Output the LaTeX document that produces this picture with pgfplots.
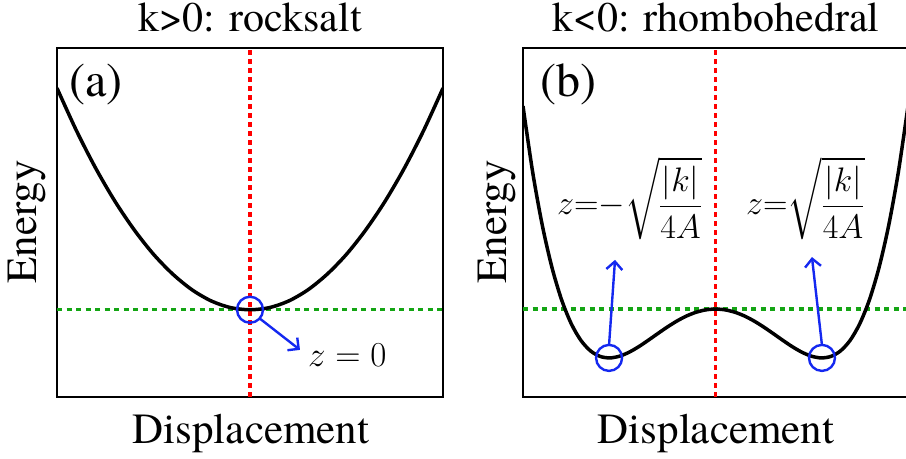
\RequirePackage{fix-cm}
\documentclass[border=0pt]{standalone}
\usepackage[no-math]{fontspec}
\IfFontExistsTF{texgyretermes-regular.otf}{\setmainfont{texgyretermes-regular.otf}}{}
\DeclareFontFamily{OMX}{cmex}{}
\DeclareFontShape{OMX}{cmex}{m}{n}{<-> cmex10}{}
\usepackage{pgfplots}
\pgfplotsset{compat=1.18}
\usetikzlibrary{arrows.meta}
\definecolor{myred}{RGB}{255,0,0}
\definecolor{mygreen}{RGB}{20,165,20}
\definecolor{myblue}{RGB}{20,40,240}

\pgfplotsset{panel/.style={scale only axis, height=349bp,
  xmin=-1,xmax=1,ymin=0,ymax=1, xtick=\empty, ytick=\empty,
  axis line style={line width=2.6bp}, anchor=south west, clip=true}}
\tikzset{
  greenline/.style={mygreen, line width=3.5bp, dash pattern=on 5bp off 4.5bp},
  redline/.style={myred, line width=3.5bp, dash pattern=on 5bp off 4bp},
  curve/.style={black, line width=3.5bp, smooth},
  ann/.style={myblue, line width=2.4bp},
  annarrow/.style={ann, -{Straight Barb[length=8bp,width=16bp,line width=2.4bp]}}}

\begin{document}
\begin{tikzpicture}
\useasboundingbox (0,0) rectangle (906bp,459bp);
% ---------- panel (a)
\begin{axis}[panel, width=386bp, at={(57bp,62bp)}]
\addplot[greenline] coordinates {(-1,0.25) (1,0.25)};
\addplot[redline] coordinates {(0,0) (0,1)};
\addplot[curve] coordinates {
(-1,0.885) (-0.9,0.764) (-0.8,0.656) (-0.7,0.561) (-0.6,0.479) (-0.5,0.409)
(-0.4,0.352) (-0.3,0.307) (-0.2,0.275) (-0.1,0.256) (0,0.25)
(0.1,0.256) (0.2,0.275) (0.3,0.307) (0.4,0.352) (0.5,0.409) (0.6,0.479)
(0.7,0.561) (0.8,0.656) (0.9,0.764) (1,0.885)};
\draw[ann] (axis cs:0,0.25) circle[radius=13bp];
\draw[annarrow] (axis cs:0.048,0.226) -- (axis cs:0.259,0.135);
\end{axis}
% ---------- panel (b)
\begin{axis}[panel, width=385bp, at={(523bp,62bp)}]
\addplot[greenline] coordinates {(-1,0.252) (1,0.252)};
\addplot[redline] coordinates {(0,0) (0,1)};
\addplot[curve] coordinates {
(-1,0.8334) (-0.95,0.6450) (-0.9,0.4926) (-0.85,0.3720) (-0.8,0.2792) (-0.75,0.2107)
(-0.7,0.1628) (-0.65,0.1324) (-0.6,0.1164) (-0.55,0.1120) (-0.5,0.1167) (-0.45,0.1280)
(-0.4,0.1438) (-0.35,0.1623) (-0.3,0.1817) (-0.25,0.2006) (-0.2,0.2178) (-0.15,0.2322)
(-0.1,0.2430) (-0.05,0.2497) (0,0.2520)
(0.05,0.2497) (0.1,0.2430) (0.15,0.2322) (0.2,0.2178) (0.25,0.2006) (0.3,0.1817)
(0.35,0.1623) (0.4,0.1438) (0.45,0.1280) (0.5,0.1167) (0.55,0.1120) (0.6,0.1164)
(0.65,0.1324) (0.7,0.1628) (0.75,0.2107) (0.8,0.2792) (0.85,0.3720) (0.9,0.4926)
(0.95,0.6450) (1,0.8334)};
\draw[ann] (axis cs:-0.553,0.112) circle[radius=13bp];
\draw[ann] (axis cs:0.553,0.112) circle[radius=13bp];
\draw[annarrow] (axis cs:-0.553,0.149) -- (axis cs:-0.522,0.393);
\draw[annarrow] (axis cs:0.553,0.149) -- (axis cs:0.501,0.401);
\end{axis}
% ---------- texts
\node[anchor=base, inner sep=0] at (250bp,427bp) {\fontsize{42bp}{46bp}\selectfont k>0: rocksalt};
\node[anchor=base, inner sep=0] at (716bp,427bp) {\fontsize{42bp}{46bp}\selectfont k<0: rhombohedral};
\node[anchor=base, inner sep=0] at (96bp,362bp) {\fontsize{48bp}{52bp}\selectfont (a)};
\node[anchor=base, inner sep=0] at (568bp,362bp) {\fontsize{48bp}{52bp}\selectfont (b)};
\node[anchor=base, inner sep=0, rotate=90] at (36bp,237bp) {\fontsize{43bp}{47bp}\selectfont Energy};
\node[anchor=base, inner sep=0, rotate=90] at (506bp,237bp) {\fontsize{43bp}{47bp}\selectfont Energy};
\node[anchor=base, inner sep=0] at (251bp,16bp) {\fontsize{43bp}{47bp}\selectfont Displacement};
\node[anchor=base, inner sep=0] at (716bp,16bp) {\fontsize{43bp}{47bp}\selectfont Displacement};
\node[anchor=base west, inner sep=0] at (308bp,92bp) {\fontsize{35bp}{38bp}\selectfont $z=0$};
\node[anchor=base west, inner sep=0] at (557bp,244bp) {\fontsize{34bp}{38bp}\selectfont $\displaystyle z{=}{-}\sqrt{\frac{|k|}{4A}}$};
\node[anchor=base west, inner sep=0] at (746bp,244bp) {\fontsize{34bp}{38bp}\selectfont $\displaystyle z{=}\sqrt{\frac{|k|}{4A}}$};
\end{tikzpicture}
\end{document}
